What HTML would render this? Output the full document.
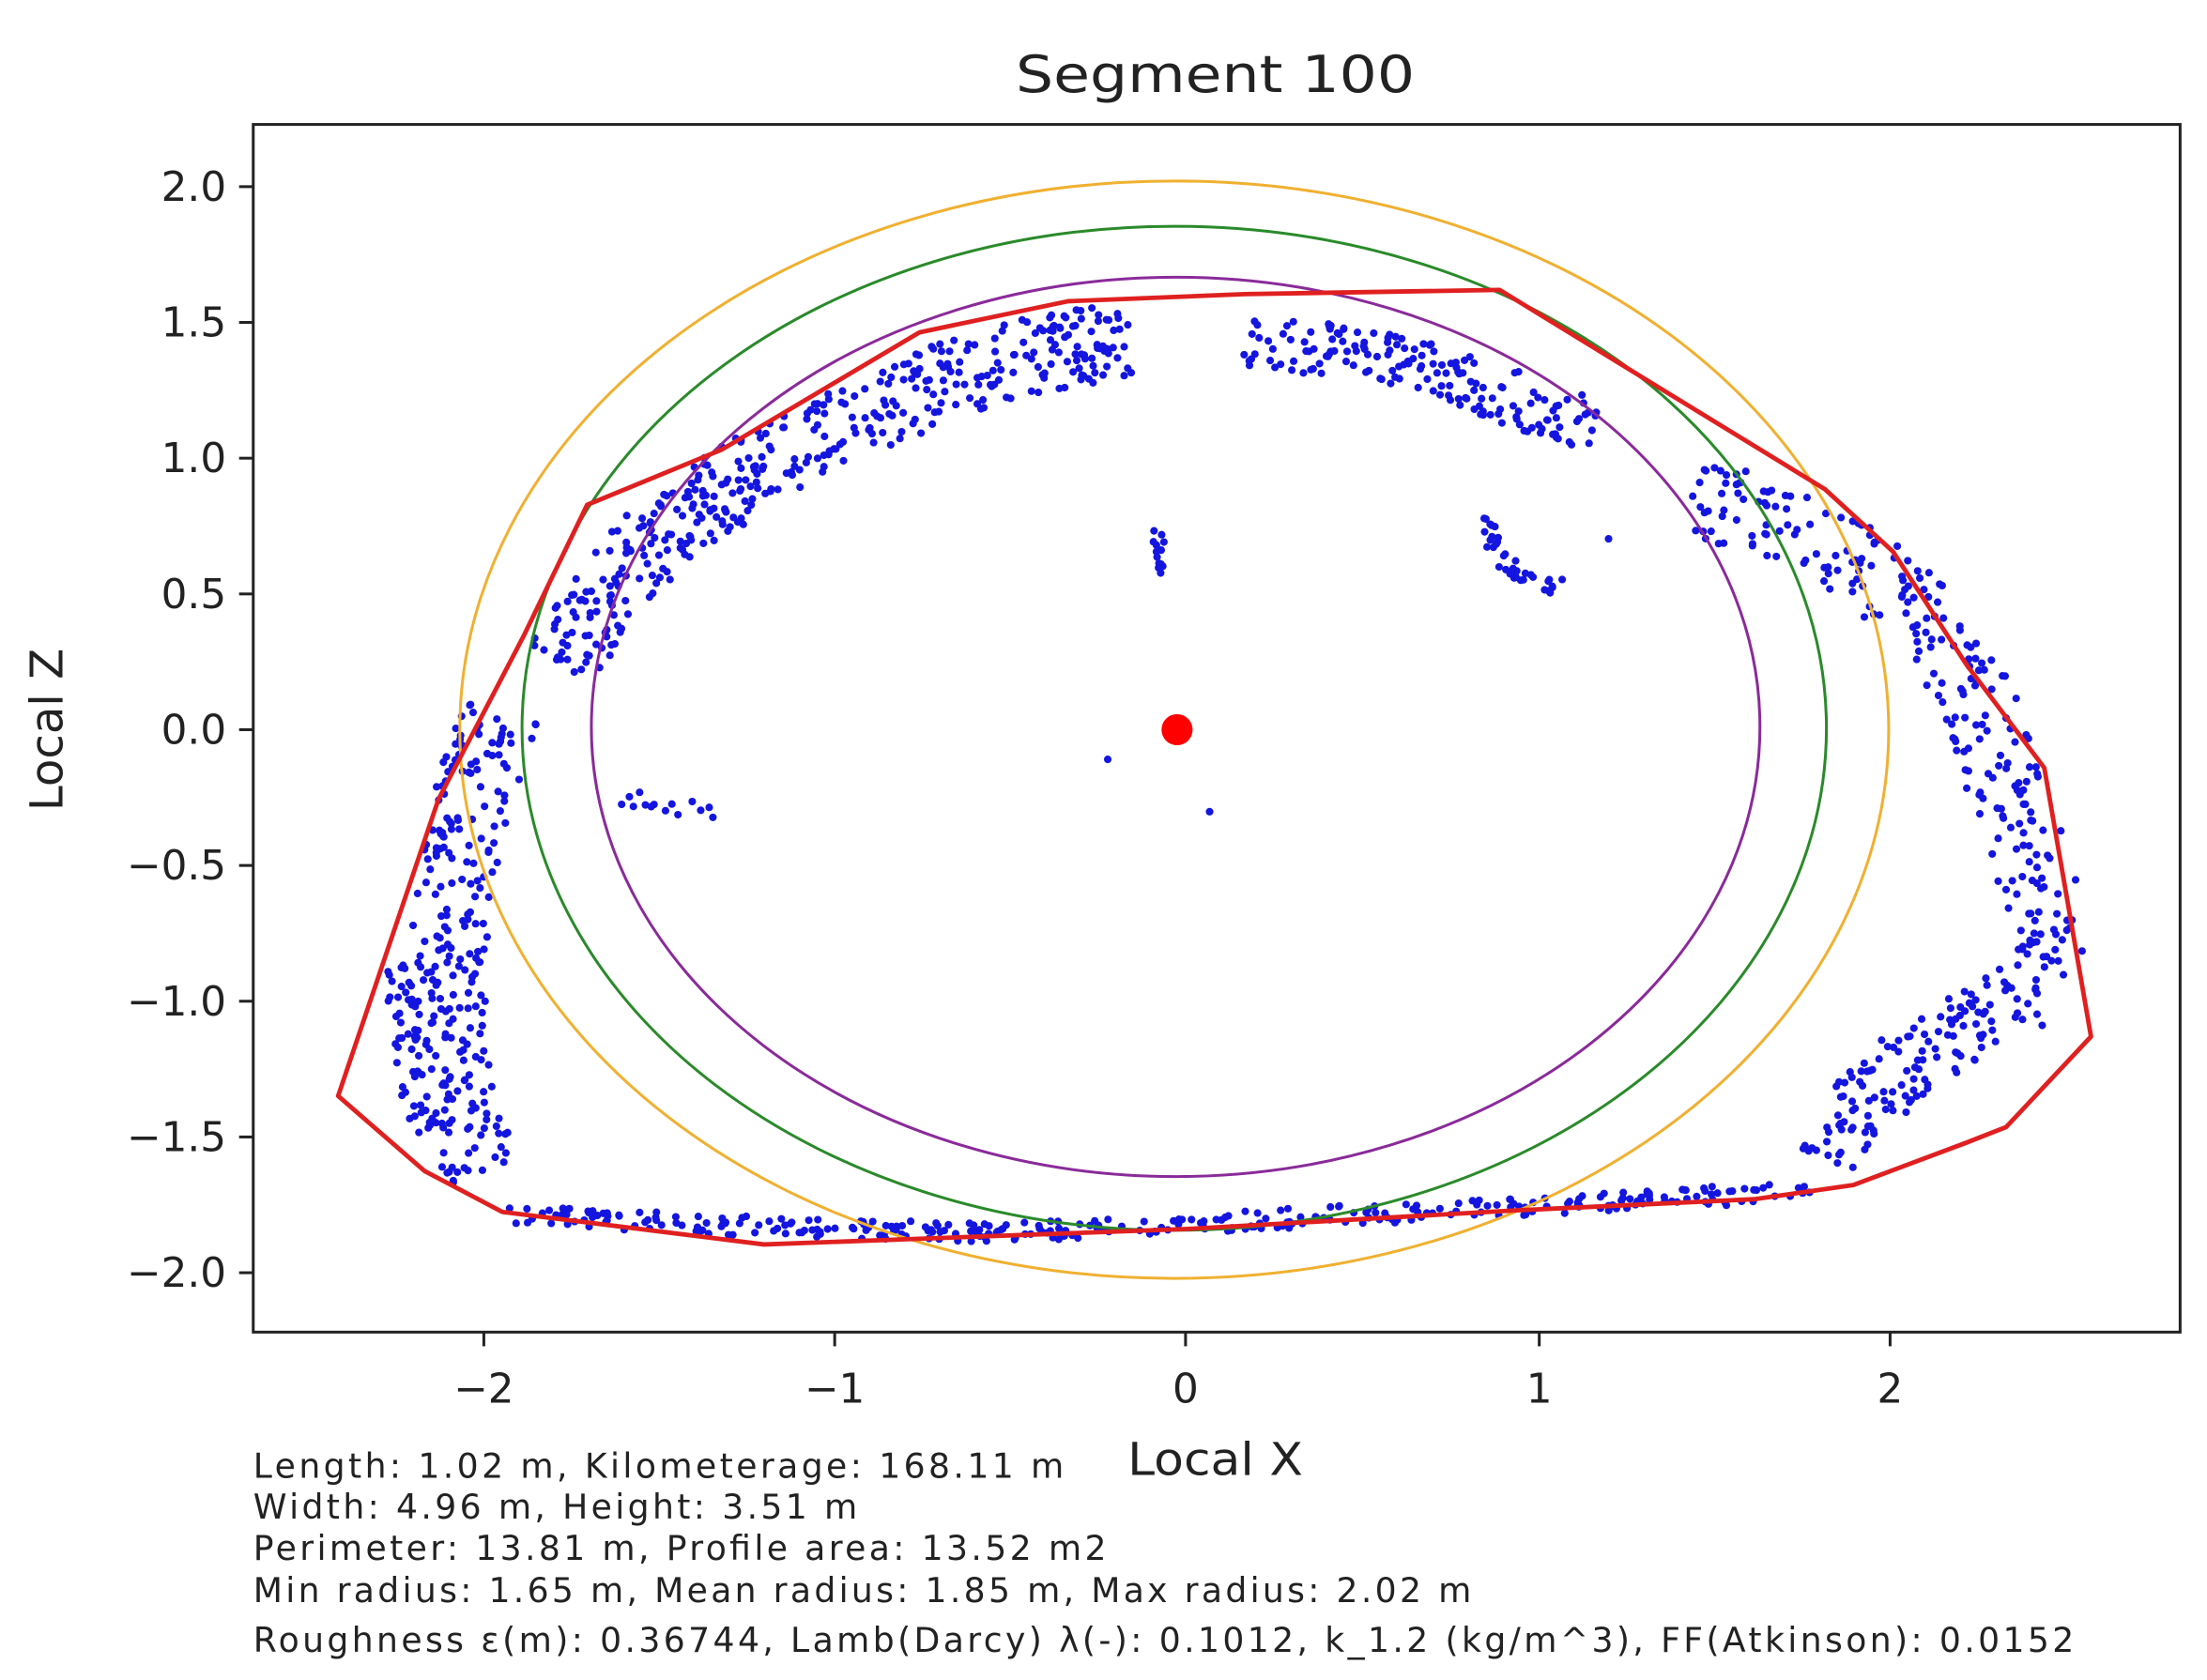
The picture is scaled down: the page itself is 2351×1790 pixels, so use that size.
<!DOCTYPE html>
<html><head><meta charset="utf-8"><style>
html,body{margin:0;padding:0;background:#fff;}
svg{display:block;}
text{font-family:"DejaVu Sans","Liberation Sans",sans-serif;fill:#222;}
</style></head><body>
<svg id="s" width="2351" height="1790" viewBox="0 0 1560 1188" preserveAspectRatio="none">
<rect x="0" y="0" width="1560" height="1188" fill="#fff"/>
<text x="718" y="65" font-size="36" textLength="282" lengthAdjust="spacingAndGlyphs">Segment 100</text>
<g id="pts"></g>
<ellipse cx="830" cy="516" rx="505" ry="388" fill="none" stroke="#f0b030" stroke-width="2"/>
<ellipse cx="830" cy="515" rx="461" ry="355" fill="none" stroke="#2a8a2a" stroke-width="2"/>
<ellipse cx="831" cy="514" rx="413" ry="318" fill="none" stroke="#8a2a9a" stroke-width="2"/>
<polygon fill="none" stroke="#e02020" stroke-width="3.2" stroke-linejoin="round" points="239,775 300,828 355,857 540,880 840,869 1070,856 1240,848 1310,838 1390,808 1418,797 1478,733 1445,543 1390,470 1338,390 1290,346 1060,205 880,208 755,213 650,235 510,318 415,357 370,450 310,565"/>
<circle cx="832" cy="516" r="11" fill="#f00"/>
<rect x="179" y="88" width="1362" height="854" fill="none" stroke="#222" stroke-width="2"/>
<g stroke="#222" stroke-width="2">
<line x1="342" y1="942" x2="342" y2="952"/><line x1="590" y1="942" x2="590" y2="952"/><line x1="838" y1="942" x2="838" y2="952"/><line x1="1088" y1="942" x2="1088" y2="952"/><line x1="1336" y1="942" x2="1336" y2="952"/>
<line x1="169" y1="132" x2="179" y2="132"/><line x1="169" y1="228" x2="179" y2="228"/><line x1="169" y1="324" x2="179" y2="324"/><line x1="169" y1="420" x2="179" y2="420"/><line x1="169" y1="516" x2="179" y2="516"/><line x1="169" y1="612" x2="179" y2="612"/><line x1="169" y1="708" x2="179" y2="708"/><line x1="169" y1="804" x2="179" y2="804"/><line x1="169" y1="900" x2="179" y2="900"/>
</g>
<g font-size="29" text-anchor="middle">
<text x="342" y="992">−2</text><text x="590" y="992">−1</text><text x="838" y="992">0</text><text x="1088" y="992">1</text><text x="1336" y="992">2</text>
</g>
<g font-size="29" text-anchor="end">
<text x="160" y="142">2.0</text><text x="160" y="238">1.5</text><text x="160" y="334">1.0</text><text x="160" y="430">0.5</text><text x="160" y="526">0.0</text><text x="160" y="622">−0.5</text><text x="160" y="718">−1.0</text><text x="160" y="814">−1.5</text><text x="160" y="910">−2.0</text>
</g>
<text x="797" y="1043" font-size="32" textLength="124" lengthAdjust="spacingAndGlyphs">Local X</text>
<text transform="translate(44,516) rotate(-90)" font-size="32" text-anchor="middle">Local Z</text>
<g font-size="24" lengthAdjust="spacingAndGlyphs">
<text x="179" y="1045" textLength="573">Length: 1.02 m, Kilometerage: 168.11 m</text>
<text x="179" y="1074" textLength="427">Width: 4.96 m, Height: 3.51 m</text>
<text x="179" y="1103" textLength="603">Perimeter: 13.81 m, Profile area: 13.52 m2</text>
<text x="179" y="1133" textLength="861">Min radius: 1.65 m, Mean radius: 1.85 m, Max radius: 2.02 m</text>
<text x="179" y="1168" textLength="1287">Roughness ε(m): 0.36744, Lamb(Darcy) λ(-): 0.1012, k_1.2 (kg/m^3), FF(Atkinson): 0.0152</text>
</g>
</svg>
<script>
(function(){
var s=12345;function r(){s=(s*16807)%2147483647;return s/2147483647;}
var g=document.getElementById('pts'),out='';
function band(path,n,th){
 var L=[],tot=0;for(var i=1;i<path.length;i++){var d=Math.hypot(path[i][0]-path[i-1][0],path[i][1]-path[i-1][1]);L.push(d);tot+=d;}
 for(var k=0;k<n;k++){var t=r()*tot,i=0;while(t>L[i]&&i<L.length-1){t-=L[i];i++;}
  var a=path[i],b=path[i+1],f=t/L[i],x=a[0]+(b[0]-a[0])*f,y=a[1]+(b[1]-a[1])*f;
  var nx=-(b[1]-a[1])/L[i],ny=(b[0]-a[0])/L[i],o=(r()-0.5)*th;
  out+='<circle cx="'+(x+nx*o).toFixed(1)+'" cy="'+(y+ny*o).toFixed(1)+'" r="2.7" fill="#1515e0"/>';}
}
band([[395,470],[430,420],[470,375],[530,335],[600,300],[680,265],[760,245],[800,240]],420,55);
band([[880,240],[960,250],[1040,270],[1090,290],[1130,300]],170,38);
band([[1195,350],[1260,370],[1320,400],[1360,440],[1400,500],[1420,560],[1445,640],[1455,690]],260,55);
band([[1440,700],[1400,720],[1350,750],[1310,790],[1295,825]],140,50);
band([[360,858],[500,866],[700,872],[900,862],[1100,852],[1280,842]],330,14);
band([[355,500],[335,560],[320,630],[315,700],[320,770],[340,830]],260,55);
band([[280,680],[290,760],[300,800]],40,20);
band([[818,375],[822,405]],14,8);
band([[1048,365],[1060,395],[1080,410],[1105,415]],40,12);
band([[435,562],[470,570],[505,575]],14,12);
out+='<circle cx="783" cy="537" r="2.7" fill="#1515e0"/><circle cx="855" cy="574" r="2.7" fill="#1515e0"/><circle cx="1137" cy="381" r="2.7" fill="#1515e0"/>';
g.innerHTML=out;
})();
</script>
</body></html>
